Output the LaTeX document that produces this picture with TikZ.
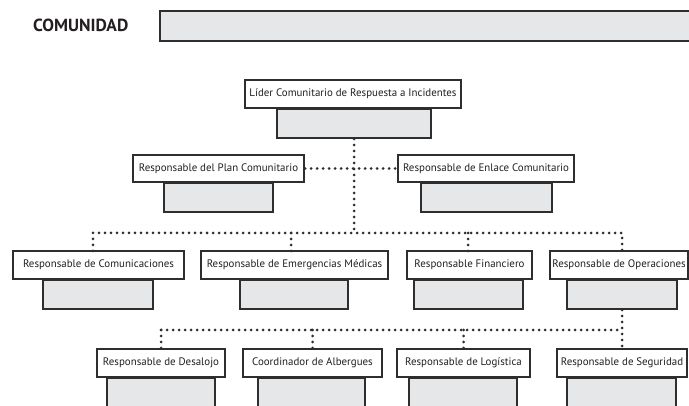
\documentclass[tikz,border=0pt]{standalone}
\usepackage{fontspec}
\setmainfont{PT Sans}
\begin{document}
\begin{tikzpicture}[x=1pt,y=-1pt,
  wbox/.style={draw=linec, line width=2pt, fill=white, inner sep=0pt, minimum height=28, text=txt, font=\fontsize{10.9}{12}\selectfont},
  gbox/.style={draw=linec, line width=2pt, fill=boxg, inner sep=0pt, anchor=north},
  dots/.style={draw=linec, line width=3pt, line cap=round, dash pattern=on 0pt off 6pt}]
\definecolor{linec}{HTML}{2E2E2E}
\definecolor{boxg}{HTML}{E6E7E8}
\definecolor{txt}{HTML}{231F20}
\useasboundingbox (0,0) rectangle (689,406);
\clip (0,0) rectangle (689,406);
% header
\node[text=txt, font=\fontsize{17.5}{20}\selectfont\bfseries, anchor=west, inner sep=0pt] (comu) at (33,25) {COMUNIDAD};
\node[gbox, anchor=north west, minimum width=560, minimum height=30] (comubox) at (159,10) {};
% level 1
\node[wbox, minimum width=216] (lead) at (353,94) {Líder Comunitario de Respuesta a Incidentes};
\node[gbox, minimum width=154, minimum height=29] (leadg) at (354,108) {};
% level 2
\node[wbox, minimum width=171, minimum height=27] (plan) at (218.5,168.5) {Responsable del Plan Comunitario};
\node[gbox, minimum width=109, minimum height=29] (plang) at (218.5,182) {};
\node[wbox, minimum width=176, minimum height=27] (enl) at (486,168.5) {Responsable de Enlace Comunitario};
\node[gbox, minimum width=131, minimum height=29] (enlg) at (486.5,182) {};
% level 3
\node[wbox, minimum width=171] (com) at (98.5,265) {Responsable de Comunicaciones};
\node[gbox, minimum width=110, minimum height=29] (comg) at (98,279) {};
\node[wbox, minimum width=187] (eme) at (294.5,265) {Responsable de Emergencias Médicas};
\node[gbox, minimum width=108, minimum height=29] (emeg) at (294,279) {};
\node[wbox, minimum width=125] (fin) at (469.5,265) {Responsable Financiero};
\node[gbox, minimum width=109, minimum height=29] (fing) at (468.5,279) {};
\node[wbox, minimum width=138] (ope) at (619,265) {Responsable de Operaciones};
\node[gbox, minimum width=110, minimum height=29] (opeg) at (622,279) {};
% level 4
\node[wbox, minimum width=128] (des) at (161,363) {Responsable de Desalojo};
\node[gbox, minimum width=108, minimum height=45] (desg) at (161,377) {};
\node[wbox, minimum width=139] (alb) at (312.5,363) {Coordinador de Albergues};
\node[gbox, minimum width=107, minimum height=45] (albg) at (311.5,377) {};
\node[wbox, minimum width=133] (log) at (463.5,363) {Responsable de Logística};
\node[gbox, minimum width=108, minimum height=45] (logg) at (463,377) {};
\node[wbox, minimum width=130] (seg) at (622,363) {Responsable de Seguridad};
\node[gbox, minimum width=109, minimum height=45] (segg) at (621.5,377) {};
% junctions
\coordinate (busA) at (354,233);
\coordinate (busB) at (622,330);
\coordinate (comT) at (93,251);
\coordinate (emeT) at (291,251);
\coordinate (finT) at (468,251);
\coordinate (opeT) at (622,251);
% connectors
\draw[dots] (plan.east) -- (enl.west);
\draw[dots] (leadg.south) -- (busA);
\draw[dots] (comT) -- (comT |- busA) -- (opeT |- busA) -- (opeT);
\draw[dots] (emeT |- busA) -- (emeT);
\draw[dots] (finT |- busA) -- (finT);
\draw[dots] (opeg.south) -- (seg.north);
\draw[dots] (des.north |- busB) -- (des.north);
\draw[dots] (des.north |- busB) -- (busB);
\draw[dots] (alb.north |- busB) -- (alb.north);
\draw[dots] (log.north |- busB) -- (log.north);
\end{tikzpicture}
\end{document}
